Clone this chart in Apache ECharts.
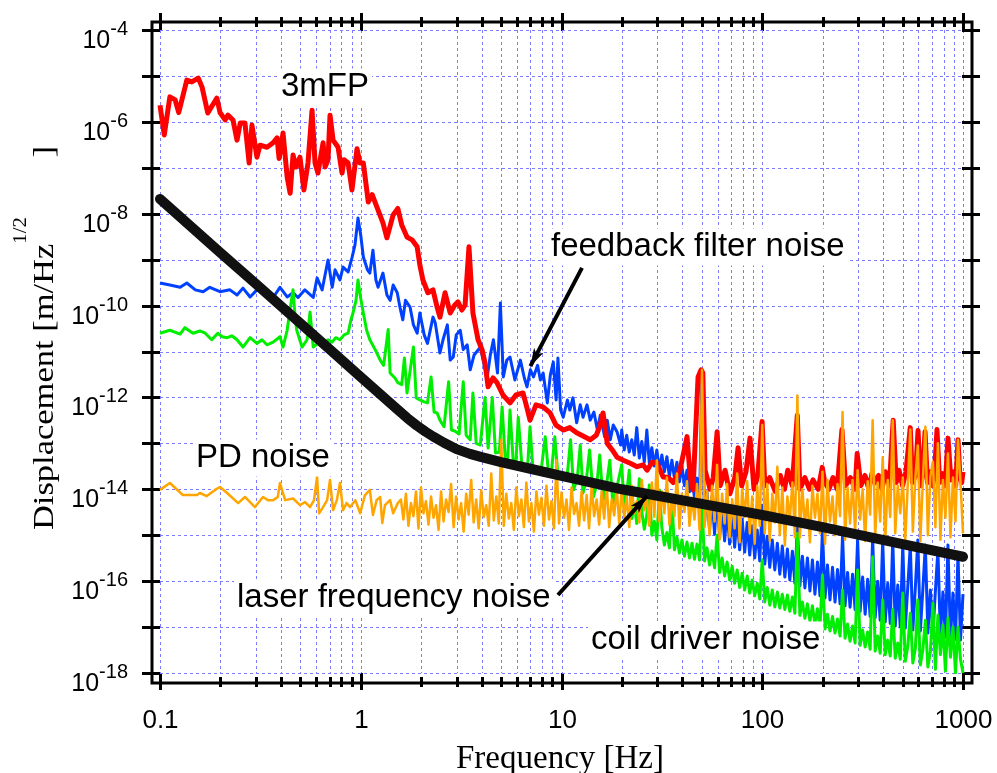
<!DOCTYPE html>
<html><head><meta charset="utf-8">
<script src="https://cdn.jsdelivr.net/npm/echarts@6/dist/echarts.min.js"></script>
<style>html,body{margin:0;padding:0;background:#fff}#chart{width:997px;height:773px}</style>
</head><body><div id="chart"></div>
<script>
// ---------- axis ticks / labels ----------
const xTickValues = [0.1,0.2,0.3,0.4,0.5,0.6,0.7,0.8,0.9,1,2,3,4,5,6,7,8,9,10,20,30,40,50,60,70,80,90,100,200,300,400,500,600,700,800,900,1000];
const xLabelValues = [0.1,1,10,100,1000];
const xLabelTexts = ['0.1','1','10','100','1000'];
const yTickValues = [1e-18,1e-17,1e-16,1e-15,1e-14,1e-13,1e-12,1e-11,1e-10,1e-9,1e-8,1e-7,1e-6,1e-5,1e-4];
const yLabelExponents = [-18,-16,-14,-12,-10,-8,-6,-4];

// ---------- data: frequency [Hz], displacement [m/Hz^1/2] ----------
const fpNoise3m = [
[0.100,2.3e-6],[0.105,5.2e-7],[0.112,3.5e-6],[0.119,3.0e-6],[0.124,1.6e-6],[0.136,8.1e-6],[0.144,7.4e-6],[0.155,9.0e-6],[0.162,5.7e-6],[0.173,1.56e-6],[0.192,3.3e-6],[0.199,1.6e-6],[0.211,1.1e-6],[0.218,1.4e-6],[0.231,1.1e-6],[0.242,4.0e-7],[0.251,9.4e-7],[0.265,9.4e-7],[0.278,1.27e-7],[0.287,8.5e-7],[0.304,1.7e-7],[0.315,3.1e-7],[0.341,2.8e-7],[0.366,3.5e-7],[0.383,4.5e-7],[0.392,1.6e-7],[0.410,5.7e-7],[0.430,6.3e-8],[0.445,2.8e-8],[0.460,1.9e-7],[0.476,1.04e-7],[0.498,1.7e-7],[0.521,3.3e-8],[0.546,1.27e-7],[0.572,1.8e-6],[0.592,1.27e-7],[0.612,7.7e-8],[0.649,3.5e-7],[0.664,1.04e-7],[0.687,1.5e-7],[0.703,1.4e-6],[0.728,4.0e-7],[0.771,2.8e-7],[0.807,7.7e-8],[0.826,1.5e-7],[0.865,1.27e-7],[0.904,3.3e-8],[0.958,2.6e-7],[0.991,1.27e-7],[1.03,1.27e-7],[1.09,1.8e-8],[1.14,2.6e-8],[1.22,1.2e-8],[1.29,6.3e-9],[1.35,3.0e-9],[1.45,9.4e-9],[1.53,1.3e-8],[1.60,5.7e-9],[1.70,3.1e-9],[1.80,2.7e-9],[1.91,1.9e-9],[1.97,7.6e-10],[2.04,3.6e-10],[2.16,1.9e-10],[2.29,2.2e-10],[2.40,9.3e-11],[2.48,5.6e-11],[2.63,1.9e-10],[2.79,6.9e-11],[2.94,1.03e-10],[3.05,1.2e-10],[3.19,8.0e-11],[3.31,1.03e-10],[3.46,1.9e-9],[3.62,6.9e-11],[3.84,1.8e-11],[4.02,1.1e-11],[4.16,5.6e-12],[4.31,1.7e-12],[4.56,2.65e-12],[4.77,2.1e-12],[5.11,1.13e-12],[5.54,7.6e-13],[5.93,1.13e-12],[6.43,1.25e-12],[6.73,5.9e-13],[6.97,3.2e-13],[7.46,6.9e-13],[8.09,6.2e-13],[8.77,4.6e-13],[9.39,2.5e-13],[10.2,1.95e-13],[11.0,2.2e-13],[11.9,1.7e-13],[12.8,1.45e-13],[13.9,1.2e-13],[14.9,1.5e-13],[15.6,2.5e-13],[16.1,4.6e-13],[16.9,1.0e-13],[17.9,7.2e-14],[18.9,5.0e-14],[20.3,4.3e-14],[22.0,3.7e-14],[23.8,3.1e-14],[25.5,3.4e-14],[26.7,2.6e-14],[28.3,3.9e-14],[29.9,3.7e-14],[32.1,1.85e-14],[34.0,1.8e-14],[36.0,1.4e-14],[38.9,2.6e-14],[42.2,1.4e-13],[43.7,2.0e-14],[45.2,9.7e-15],[47.9,2.8e-12],[49.6,4.0e-12],[50.6,3.4e-12],
[51.9,2.6e-14],[55.0,1.0e-14],[57.0,1.8e-14],[59.6,1.8e-13],[61.7,1.2e-14],[65.3,2.6e-14],[69.0,8.0e-15],[73.0,1.8e-14],[75.8,8.0e-14],[79.0,1.2e-14],[83.0,2.4e-14],[86.9,1.3e-13],[91.0,1.0e-14],[95.0,2.0e-14],[99.8,3.0e-13],[103,1.2e-14],[109,1.8e-14],[116,9.0e-15],[123,2.0e-14],[129,1.0e-14],[134,2.6e-14],[141,1.2e-14],[149.5,4.1e-13],[154,1.0e-14],[163,1.8e-14],[172,1.0e-14],[179,1.6e-14],[190,1.0e-14],[199,3.0e-14],[205,1.4e-14],[215,1.0e-14],[225,1.8e-14],[236,1.0e-14],[249.5,2.0e-13],[260,1.2e-14],[275,1.8e-14],[290,1.0e-14],[297,6.0e-14],[310,1.2e-14],[325,2.0e-14],[340,1.0e-14],[352,2.2e-14],[365,1.4e-14],[380,2.0e-14],[395,1.0e-14],[410,2.4e-14],[430,1.2e-14],[449,3.2e-13],[465,1.4e-14],[480,2.6e-14],[500,1.2e-14],[520,2.4e-14],[546,2.2e-13],[560,1.4e-14],[580,2.0e-14],[597,1.9e-13],[615,1.2e-14],[630,2.2e-14],[647,1.8e-13],[665,1.4e-14],[685,2.4e-14],[705,1.2e-14],[720,2.0e-14],[742,2.0e-13],[765,1.4e-14],[790,2.2e-14],[815,1.2e-14],[842,1.3e-13],[870,1.6e-14],[900,2.4e-14],[920,1.2e-14],[944,1.2e-13],[965,2.0e-14],[985,1.4e-14],[1000,2.4e-14]
];

const feedbackFilterNoiseLow = [
[0.100,3.1e-10],[0.112,2.8e-10],[0.126,2.5e-10],[0.136,3.1e-10],[0.150,2.2e-10],[0.164,2.0e-10],[0.177,2.5e-10],[0.199,2.0e-10],[0.223,2.2e-10],[0.242,1.7e-10],[0.259,2.4e-10],[0.281,1.54e-10],[0.304,2.2e-10],[0.341,1.9e-10],[0.366,1.5e-10],[0.396,2.5e-10],[0.430,1.54e-10],[0.460,1.9e-10],[0.487,1.5e-10],[0.527,2.2e-10],[0.580,1.5e-10],[0.606,4.0e-10],[0.642,2.2e-10],[0.687,9.8e-10],[0.721,2.5e-10],[0.745,6.0e-10],[0.788,3.6e-10],[0.816,6.9e-10],[0.865,5.4e-10],[0.904,1.09e-9],[0.936,2.1e-9],[0.969,8.1e-9],[1.00,3.4e-9],[1.03,1.14e-9],[1.08,6.0e-10],[1.11,5.1e-10],[1.15,1.6e-9],[1.19,3.6e-10],[1.22,2.5e-10],[1.29,5.1e-10],[1.35,1.7e-10],[1.40,1.3e-10],[1.45,2.8e-10],[1.52,1.9e-10],[1.57,8.9e-11],[1.62,4.9e-11],[1.67,1.3e-10],[1.76,9.3e-11],[1.83,3.8e-11],[1.91,2.5e-11],[1.97,6.9e-11],[2.07,2.3e-11],[2.15,1.5e-11],[2.29,5.6e-11],[2.35,4.2e-11],[2.48,9.3e-12],[2.57,1.8e-11],[2.70,3.8e-11],[2.79,6.5e-12],[2.89,7.6e-12],[2.99,2.3e-11],[3.13,2.9e-11],[3.24,1.1e-11],[3.39,1.4e-11],[3.51,4.0e-12],[3.67,8.4e-12],[3.94,1.25e-11],[4.12,5.0e-12],[4.27,2.8e-12],[4.42,8.4e-12],[4.58,1.8e-11],[4.80,3.4e-12],[4.96,1.14e-10],[5.13,2.8e-12],[5.34,6.5e-12],[5.54,7.6e-12],[5.86,2.4e-12],[6.24,6.5e-12],[6.53,2.65e-12],[6.73,1.7e-12],[7.0,4.0e-12],[7.25,2.8e-12],[7.6,5.0e-12],[7.85,2.4e-12],[8.1,3.4e-12],[8.5,7.6e-13],[8.8,3.1e-12],[9.1,5.9e-12],[9.4,8.8e-13],[9.6,7.2e-12],[9.9,5.3e-13],[10.2,3.7e-13],[10.7,8.8e-13],[11.0,5.3e-13],[11.4,9.8e-13],[11.9,2.8e-13],[12.4,6.9e-13],[12.8,3.7e-13],[13.4,6.9e-13],[13.9,3.2e-13],[14.5,4.8e-13],[15.1,1.95e-13],[15.6,4.1e-13],[16.4,1.4e-13],[16.9,3.2e-13],[17.5,1.2e-13],[18.1,2.5e-13],[18.9,1.8e-13],[19.7,9.2e-14]
];

const coilDriverNoiseLow = [
[0.100,2.5e-11],[0.112,2.9e-11],[0.126,2.4e-11],[0.133,3.3e-11],[0.146,2.5e-11],[0.158,2.8e-11],[0.168,2.5e-11],[0.181,1.8e-11],[0.194,2.5e-11],[0.204,2.1e-11],[0.216,2.0e-11],[0.228,2.2e-11],[0.242,1.8e-11],[0.259,1.25e-11],[0.281,2.0e-11],[0.304,1.5e-11],[0.322,1.8e-11],[0.341,1.4e-11],[0.366,1.6e-11],[0.396,2.1e-11],[0.410,1.25e-11],[0.430,2.9e-11],[0.444,8.0e-11],[0.460,2.2e-10],[0.470,6.2e-11],[0.480,2.9e-11],[0.510,1.25e-11],[0.540,1.8e-11],[0.559,7.2e-11],[0.580,1.25e-11],[0.612,1.5e-11],[0.649,1.4e-11],[0.687,1.8e-11],[0.720,1.6e-11],[0.750,2.0e-11],[0.788,1.8e-11],[0.826,2.3e-11],[0.865,2.5e-11],[0.894,4.9e-11],[0.915,6.9e-11],[0.947,1.3e-10],[0.969,3.6e-10],[0.993,1.7e-10],[1.03,6.9e-11],[1.07,2.9e-11],[1.11,1.8e-11],[1.18,1.1e-11],[1.25,6.5e-12],[1.30,5.0e-12],[1.37,3.0e-11],[1.40,3.4e-12],[1.48,2.65e-12],[1.53,2.1e-12],[1.60,1.9e-12],[1.65,7.2e-12],[1.70,1.25e-12],[1.83,1.25e-11],[1.89,9.7e-13],[1.97,8.8e-13],[2.07,8.0e-13],[2.15,7.6e-13],[2.24,2.8e-12],[2.32,4.8e-13],[2.40,4.6e-13],[2.48,3.2e-13],[2.60,2.3e-13],[2.74,2.2e-12],[2.83,1.95e-13],[2.94,1.86e-13],[3.09,1.6e-13],[3.24,2.2e-12],[3.35,1.5e-13],[3.51,1.2e-13],[3.62,1.25e-12],[3.76,1.0e-13],[3.94,9.2e-14],[4.16,1.0e-12],[4.31,7.9e-14],[4.52,1.0e-12],[4.69,6.2e-14],[4.90,6.4e-14],[5.06,6.2e-13],[5.24,5.0e-14],[5.40,4.8e-14],[5.54,5.3e-13],[5.74,4.3e-14],[5.93,3.9e-14],[6.09,3.7e-13],[6.33,3.9e-14],[6.53,3.4e-14],[6.78,3.2e-14],[6.97,2.3e-13],[7.20,2.9e-14],[7.55,2.6e-14],[7.90,2.4e-14],[8.30,1.4e-13],[8.60,2.4e-14],[8.90,2.2e-14],[9.26,1.4e-13],[9.60,2.0e-14],[10.2,1.85e-14],
[10.7,2.2e-14],[11.1,1.2e-13],[11.5,9.7e-15],[12.0,1.85e-14],[12.4,9.2e-14],[12.8,8.3e-15],[13.3,1.6e-14],[13.8,7.2e-14],[14.4,6.8e-15],[15.0,1.3e-14],[15.5,5.6e-14],[16.1,5.8e-15],[16.7,1.1e-14],[17.4,4.3e-14],[18.0,5.0e-15],[18.7,9.2e-15]
];

const pdNoiseLow = [
[0.100,9.7e-15],[0.112,1.37e-14],[0.130,7.5e-15],[0.153,7.5e-15],[0.158,8.3e-15],[0.171,7.1e-15],[0.188,9.7e-15],[0.199,1.12e-14],[0.216,8.3e-15],[0.245,5.0e-15],[0.265,6.8e-15],[0.297,4.1e-15],[0.326,6.8e-15],[0.345,5.8e-15],[0.366,5.8e-15],[0.386,6.8e-15],[0.396,1.37e-14],[0.420,5.8e-15],[0.460,6.3e-15],[0.498,4.5e-15],[0.527,5.3e-15],[0.559,4.1e-15],[0.585,5.8e-15],[0.606,1.85e-14],[0.620,3.0e-15],[0.649,4.1e-15],[0.680,5.8e-15],[0.703,1.6e-14],[0.728,3.5e-15],[0.760,5.8e-15],[0.788,1.37e-14],[0.816,3.5e-15],[0.850,5.0e-15],[0.885,4.1e-15],[0.940,5.8e-15],[0.993,3.0e-15],[1.05,7.5e-15],[1.11,9.7e-15],[1.15,2.75e-15],[1.20,5.8e-15],[1.25,6.8e-15],[1.28,1.85e-15],[1.32,4.5e-15],[1.35,4.1e-15],[1.40,5.8e-15],[1.45,3.0e-15],[1.53,5.0e-15]
];

// dense measurement frequency grids [Hz] of the noisy high-frequency parts
const freqGridA = [1.585,1.631,1.679,1.728,1.778,1.830,1.884,1.939,1.995,2.054,2.113,2.175,2.239,2.304,2.371,2.441,2.512,2.585,2.661,2.738,2.818,2.901,2.985,3.073,3.162,3.255,3.350,3.447,3.548,3.652,3.758,3.868,3.981,4.097,4.217,4.340,4.467,4.597,4.732,4.870,5.012,5.158,5.309,5.464,5.623,5.788,5.957,6.131,6.310,6.494,6.683,6.879,7.080,7.286,7.499,7.718,7.943,8.175,8.414,8.660,8.913,9.173,9.441,9.716,10.00,10.29,10.59,10.90,11.22,11.55,11.89,12.23,12.59,12.96,13.34,13.72,14.13,14.54,14.96,15.40,15.85,16.31,16.79,17.28,17.78,18.30,18.84,19.39];
const freqGridB = [19.95,20.54,21.13,21.75,22.39,23.04,23.71,24.41,25.12,25.85,26.61,27.38,28.18,29.01,29.85,30.73,31.62,32.55,33.50,34.47,35.48,36.52,37.58,38.68,39.81,40.97,42.17,43.40,44.67,45.97,47.32,48.70,50.12,51.58,53.09,54.64,56.23,57.88,59.57,61.31,63.10,64.94,66.83,68.79,70.80,72.86,74.99,77.18,79.43,81.75,84.14,86.60,89.13,91.73,94.41,97.16,100.0,102.9,105.9,109.0,112.2,115.5,118.9,122.3,125.9,129.6,133.4,137.2,141.3,145.4,149.6,154.0,158.5,163.1,167.9,172.8,177.8,183.0,188.4,193.9,199.5,205.4,211.3,217.5,223.9,230.4,237.1,244.1,251.2,258.5,266.1,273.8,281.8,290.1,298.5,307.3,316.2,325.5,335.0,344.7,354.8,365.2,375.8,386.8,398.1,409.7,421.7,434.0,446.7,459.7,473.2,487.0,501.2,515.8,530.9,546.4,562.3,578.8,595.7,613.1,631.0,649.4,668.3,687.9,708.0,728.6,749.9,771.8,794.3,817.5,841.4,866.0,891.3,917.3,944.1,971.6,1000];

const pdNoiseA = [6e-15,2.2e-15,8e-15,1.6e-15,5e-15,2.6e-15,9e-15,1.4e-15,1.1e-14,3e-15,
5.5e-15,1.7e-15,7e-15,2.4e-15,4.5e-15,1.3e-15,9e-15,2e-15,6e-15,3.2e-15,
1.3e-14,1.5e-15,7e-15,2.2e-15,5e-15,1.2e-15,8e-15,2.8e-15,1.6e-14,1.9e-15,
6e-15,1.4e-15,9.5e-15,2.5e-15,4.5e-15,1.6e-15,2.2e-14,2.1e-15,7e-15,1.8e-15,
1.2e-13,1.6e-15,8e-15,2.3e-15,5e-15,1.3e-15,1.1e-14,2.6e-15,6e-15,1.5e-15,
1.4e-14,2e-15,5e-15,1.2e-15,9e-15,2.8e-15,6.5e-15,1.6e-15,1.2e-14,2.2e-15,
5.5e-15,1.4e-15,4.3e-14,1.8e-15,8.5e-15,2.4e-15,6e-15,1.3e-15,1.1e-14,2.9e-15,
5e-15,1.6e-15,9e-15,2.1e-15,7.5e-15,1.4e-15,1.2e-14,2.6e-15,6e-15,1.7e-15,
9e-15,2.3e-15,1.3e-14,1.5e-15,6e-15,2.7e-15,1.05e-14,1.8e-15];
const pdNoiseB = [1.0e-14,2.4e-15,7e-15,1.5e-15,1.2e-14,3e-15,5.5e-15,1.9e-15,1.6e-14,3.5e-15,
7e-15,1.6e-15,1.4e-14,2.5e-15,4.3e-14,2.0e-15,9e-15,3e-15,1.8e-14,1.7e-15,
6e-15,2.6e-15,2.2e-14,1.4e-15,8e-15,3.2e-15,1.5e-14,1.6e-15,6.5e-15,2.2e-15,
1.3e-14,1.3e-15,4.0e-12,1.5e-15,9e-15,1.0e-15,1.2e-14,2.0e-15,3.4e-14,8e-16,
8e-15,1.8e-15,1.3e-14,9e-16,6e-15,1.4e-15,2.2e-14,7e-16,1.0e-14,2.5e-15,
1.5e-14,1.1e-15,7e-15,6.5e-16,1.2e-14,1.6e-15,2.5e-13,1.1e-15,1.3e-14,7.5e-16,
8e-15,1.9e-15,3.1e-14,1.0e-15,1.1e-14,6e-16,7e-15,2.2e-15,1.4e-14,9e-16,
1.1e-12,9e-16,1.0e-14,1.8e-15,6e-15,7e-16,1.2e-14,2.4e-15,8e-15,1.1e-15,
2.4e-14,6.5e-16,1.6e-14,2.0e-15,7e-15,1.0e-15,1.3e-14,2.6e-15,4.8e-13,8e-16,
1.1e-14,1.8e-15,1.6e-14,1.2e-15,2.6e-14,2.2e-15,1.0e-14,7.5e-16,1.5e-14,2.8e-15,
3.2e-13,9e-16,1.4e-14,2.0e-15,5.0e-14,7e-16,1.6e-14,2.5e-15,3.2e-13,1.1e-15,
1.2e-14,3.0e-15,1.8e-14,8e-16,1.3e-14,2.0e-13,1.2e-15,1.7e-14,9e-14,7.5e-16,
1.5e-14,2.3e-13,1.0e-15,1.9e-14,4e-14,1.5e-15,1.0e-13,8e-16,1.6e-14,2.4e-15,
6.0e-14,9e-16,1.8e-14,2.0e-15,1.2e-13,1.4e-14,1.1e-15];
const feedbackFilterNoiseB = [1.95e-13,7.2e-14,1.5e-13,6.5e-14,1.2e-13,5.6e-14,2.2e-13,4.8e-14,1.1e-13,3.9e-14,
1.95e-13,3.7e-14,8e-14,3.2e-14,7.2e-14,2.6e-14,5.6e-14,2.4e-14,5.1e-14,1.9e-14,
4.3e-14,1.75e-14,3.9e-14,1.45e-14,3.2e-14,1.2e-14,2.6e-14,8.8e-15,2.1e-14,6.4e-15,
1.75e-14,4.5e-15,4.0e-12,1.9e-15,8.8e-15,1.3e-15,7.0e-15,1.05e-15,9.7e-15,8.6e-16,
4.5e-15,7.5e-16,3.7e-15,6.4e-16,3.2e-15,5.5e-16,2.6e-15,4.8e-16,2.25e-15,4.3e-16,
1.9e-15,3.7e-16,1.6e-15,3.2e-16,1.3e-15,2.75e-16,4.5e-15,2.35e-16,9.5e-16,2.0e-16,
7.9e-16,1.75e-16,6.7e-16,1.42e-16,5.8e-16,1.23e-16,5.0e-16,1.06e-16,4.5e-16,9e-17,
1.65e-15,7.9e-17,3.5e-16,7.1e-17,3.2e-16,6.1e-17,2.9e-16,5.2e-17,2.6e-16,4.8e-17,
1.3e-15,4.3e-17,2.25e-16,3.9e-17,2.0e-16,3.5e-17,1.8e-16,3.2e-17,1.0e-15,2.9e-17,
1.55e-16,2.7e-17,1.42e-16,2.4e-17,7.9e-16,2.2e-17,1.23e-16,1.9e-17,1.1e-16,1.7e-17,
8.6e-16,1.6e-17,1.0e-16,1.4e-17,7.9e-16,1.3e-17,9e-17,1.2e-17,7.9e-16,1.05e-17,
8.2e-17,1.0e-17,6.1e-16,9.5e-18,7.5e-17,6.1e-16,8.6e-18,7.1e-17,7.9e-16,8.2e-18,
6.7e-17,6.1e-16,7.4e-18,6.4e-17,7.0e-18,6.1e-17,4.8e-16,6.4e-18,5.8e-17,6.1e-18,
6.1e-16,5.7e-18,5.5e-17,5.4e-18,3.7e-16,5.2e-18,5.2e-17];
const coilDriverNoiseB = [3.4e-14,3.9e-15,7.9e-15,2.6e-14,2.3e-15,4.8e-15,1.8e-15,1.7e-14,3.2e-15,1.35e-15,
2.75e-15,1.24e-14,1.0e-15,2.0e-15,7.9e-16,9.7e-15,1.45e-15,6.1e-16,1.15e-15,5.3e-16,
5.8e-15,4.8e-16,9.0e-16,4.1e-16,7.9e-16,3.5e-16,7.1e-16,3.2e-16,6.7e-16,3.0e-16,
6.4e-16,2.9e-16,4.5e-15,2.75e-16,5.3e-16,2.25e-16,4.5e-16,1.95e-16,1.0e-15,1.55e-16,
3.2e-16,1.3e-16,2.6e-16,1.06e-16,2.1e-16,9e-17,1.75e-16,7.3e-17,1.48e-16,6.4e-17,
1.3e-16,5.5e-17,1.06e-16,4.8e-17,9e-17,4.1e-17,2.9e-16,3.5e-17,7.3e-17,3.0e-17,
6.4e-17,2.75e-17,5.8e-17,2.6e-17,5.2e-17,2.4e-17,5.0e-17,2.2e-17,4.5e-17,2.0e-17,
1.1e-15,1.8e-17,3.5e-17,1.55e-17,3.2e-17,1.36e-17,2.9e-17,1.17e-17,2.5e-17,1.0e-17,
1.36e-16,9.1e-18,1.9e-17,8.2e-18,1.7e-17,7.4e-18,1.5e-17,6.4e-18,6.4e-17,5.7e-18,
1.17e-17,4.9e-18,1.05e-17,4.5e-18,1.75e-16,4.0e-18,8.6e-18,3.7e-18,7.8e-18,3.3e-18,
3.4e-16,3.0e-18,6.4e-18,2.7e-18,3.9e-17,2.5e-18,5.2e-18,2.35e-18,2.4e-17,2.1e-18,
4.5e-18,2.0e-18,5.5e-17,1.8e-18,3.8e-18,2.0e-17,1.65e-18,3.4e-18,3.9e-17,1.5e-18,
3.2e-18,1.4e-17,1.35e-18,2.9e-18,3.3e-17,1.2e-18,1.8e-17,2.5e-18,1.1e-17,1.1e-18,
1.6e-17,2.2e-18,1.0e-17,1.0e-18,1.0e-17,2.0e-18,1.0e-18];

const laserFrequencyNoise = [
[0.1,2.1e-8],[0.2,1.42e-9],[0.3,3.0e-10],[0.5,4.1e-11],[0.7,1.12e-11],[1.0,2.8e-12],[1.5,5.8e-13],[1.7,3.6e-13],[1.9,2.45e-13],[2.1,1.8e-13],[2.3,1.4e-13],[2.6,1.03e-13],[3.0,7.5e-14],[3.5,5.9e-14],[4.0,5.0e-14],[5.0,3.9e-14],[7.0,2.8e-14],[10,1.95e-14],[20,1.0e-14],[50,4.8e-15],[100,2.75e-15],[200,1.5e-15],[500,6.4e-16],[1000,3.4e-16]
];

// annotation arrows (tail -> head), in data coordinates
const feedbackArrow = [[12.65,6.6e-10],[7.0,4.8e-12]];
const laserArrow = [[9.6,5.0e-17],[26.6,7.1e-15]];

// ---------- assemble ----------
const zip = (fs, vs) => fs.map((f, i) => [f, vs[i]]);
const feedbackFilterNoise = feedbackFilterNoiseLow.concat(zip(freqGridB, feedbackFilterNoiseB));
const coilDriverNoise = coilDriverNoiseLow.concat(zip(freqGridB, coilDriverNoiseB));
const pdNoise = pdNoiseLow.concat(zip(freqGridA, pdNoiseA), zip(freqGridB, pdNoiseB));

const xMin = 0.1, xMax = 1000, yMin = 1e-18, yMax = 1e-4;
const SANS = '"Liberation Sans", Arial, Helvetica, sans-serif';
const SERIF = '"Liberation Serif", "Times New Roman", Times, serif';

const tickData = xTickValues.map(v => [v, yMin, xLabelValues.indexOf(v) >= 0 ? 1 : 0])
  .concat(yTickValues.map(v => [xMin, v, 2]));

function renderTicks(params, api) {
  const cs = params.coordSys;
  const L = cs.x, R = cs.x + cs.width, T = cs.y, B = cs.y + cs.height;
  const kind = api.value(2);
  const gridStyle = {stroke: '#7c7cff', lineWidth: 1, lineDash: [3, 3], fill: null};
  const tickStyle = {stroke: '#000', lineWidth: 3, fill: null};
  const ch = [];
  if (kind === 2) {
    const v = api.value(1);
    const py = Math.round(api.coord([xMin, v])[1]) + 0.5;
    ch.push({type: 'line', shape: {x1: L, y1: py, x2: R, y2: py}, style: gridStyle});
    ch.push({type: 'line', shape: {x1: L - 18, y1: py, x2: L, y2: py}, style: tickStyle});
    ch.push({type: 'line', shape: {x1: R - 1, y1: py, x2: R + 17, y2: py}, style: tickStyle});
    const ex = Math.round(Math.log10(v));
    if (yLabelExponents.indexOf(ex) >= 0) {
      ch.push({type: 'text', x: L - 32, y: py + 6, style: {
        text: '{b|10}{s|' + ex + '}',
        rich: {
          b: {fontSize: 25, fontFamily: SANS, lineHeight: 34, verticalAlign: 'bottom', fill: '#000'},
          s: {fontSize: 20, fontFamily: SANS, lineHeight: 20, verticalAlign: 'top', fill: '#000'}
        },
        align: 'right', verticalAlign: 'middle', textAlign: 'right', textVerticalAlign: 'middle', fill: '#000'
      }});
    }
  } else {
    const v = api.value(0);
    const px = Math.round(api.coord([v, yMin])[0]) + 0.5;
    ch.push({type: 'line', shape: {x1: px, y1: T, x2: px, y2: B}, style: gridStyle});
    if (kind === 1) {
      ch.push({type: 'line', shape: {x1: px, y1: T - 17, x2: px, y2: T + 1}, style: tickStyle});
      ch.push({type: 'line', shape: {x1: px, y1: B, x2: px, y2: B + 17}, style: tickStyle});
      const idx = xLabelValues.indexOf(v);
      ch.push({type: 'text', x: px, y: 721, style: {
        text: xLabelTexts[idx], fontSize: 26, fontFamily: SANS, fill: '#000',
        align: 'center', verticalAlign: 'middle', textAlign: 'center', textVerticalAlign: 'middle'
      }});
    } else {
      ch.push({type: 'line', shape: {x1: px, y1: T - 13, x2: px, y2: T - 3}, style: tickStyle});
      ch.push({type: 'line', shape: {x1: px, y1: B + 4, x2: px, y2: B + 14}, style: tickStyle});
    }
  }
  return {type: 'group', children: ch};
}

function lineSeries(name, data, color, width, extra) {
  return Object.assign({
    type: 'line', name: name, data: data, showSymbol: false, symbol: 'none',
    clip: true, silent: true, animation: false,
    lineStyle: {color: color, width: width, join: 'round'},
    emphasis: {disabled: true}
  }, extra || {});
}

function annot(text, x, y) {
  return {type: 'text', x: x, y: y, z: 5, style: {
    text: text, fontSize: 33, fontFamily: SANS, fill: '#000',
    backgroundColor: '#fff', padding: [2, 3],
    align: 'left', verticalAlign: 'middle', textAlign: 'left', textVerticalAlign: 'middle'
  }};
}

const option = {
  animation: false,
  backgroundColor: '#fff',
  grid: {left: 160, right: 34, top: 30, bottom: 100, containLabel: false, outerBoundsMode: 'none'},
  xAxis: {type: 'log', logBase: 10, min: xMin, max: xMax, show: false},
  yAxis: {type: 'log', logBase: 10, min: yMin, max: yMax, show: false},
  series: [
    {type: 'custom', renderItem: renderTicks, data: tickData, encode: {x: 0, y: 1}, silent: true, z: 1, clip: false, animation: false},
    lineSeries('feedback filter noise', feedbackFilterNoise, '#0040ff', 3),
    lineSeries('coil driver noise', coilDriverNoise, '#00ee00', 3),
    lineSeries('3mFP', fpNoise3m, '#ff0000', 5),
    lineSeries('PD noise', pdNoise, '#ffa500', 2.5),
    lineSeries('laser frequency noise', laserFrequencyNoise, '#111111', 10, {
      lineStyle: {color: '#111111', width: 10, cap: 'round', join: 'round'},
      markLine: {
        silent: true, animation: false, symbol: ['none', 'arrow'], symbolSize: [8, 18],
        label: {show: false}, emphasis: {disabled: true},
        lineStyle: {color: '#000', width: 4, type: 'solid'},
        data: [
          [{coord: feedbackArrow[0]}, {coord: feedbackArrow[1]}],
          [{coord: laserArrow[0]}, {coord: laserArrow[1]}]
        ]
      }
    })
  ],
  graphic: [
    {type: 'rect', z: 10, shape: {x: 152, y: 22, width: 820, height: 661}, style: {fill: null, stroke: '#000', lineWidth: 3}},
    annot('3mFP', 278, 87),
    annot('feedback filter noise', 548, 247),
    annot('PD noise', 193, 458),
    annot('laser frequency noise', 234, 598),
    annot('coil driver noise', 588, 640),
    {type: 'text', x: 560, y: 759, z: 5, style: {
      text: 'Frequency [Hz]', fontSize: 33, fontFamily: SERIF, fill: '#000',
      align: 'center', verticalAlign: 'middle', textAlign: 'center', textVerticalAlign: 'middle'
    }},
    {type: 'text', x: 36, y: 338, rotation: Math.PI / 2, scaleX: 1.15, scaleY: 1, z: 5, style: {
      text: '{a|Displacement [m/Hz}{s|1/2}{g| }{a|]}',
      rich: {
        a: {fontSize: 30, fontFamily: SERIF, lineHeight: 48, verticalAlign: 'bottom', fill: '#000'},
        s: {fontSize: 18, fontFamily: SERIF, lineHeight: 18, verticalAlign: 'top', fill: '#000'},
        g: {fontSize: 18, fontFamily: SERIF, lineHeight: 18, width: 52, fill: '#000'}
      },
      fill: '#000', align: 'center', verticalAlign: 'middle', textAlign: 'center', textVerticalAlign: 'middle'
    }}
  ]
};

const chart = echarts.init(document.getElementById('chart'), null, {renderer: 'canvas', width: 997, height: 773});
chart.setOption(option);
</script>
</body></html>
